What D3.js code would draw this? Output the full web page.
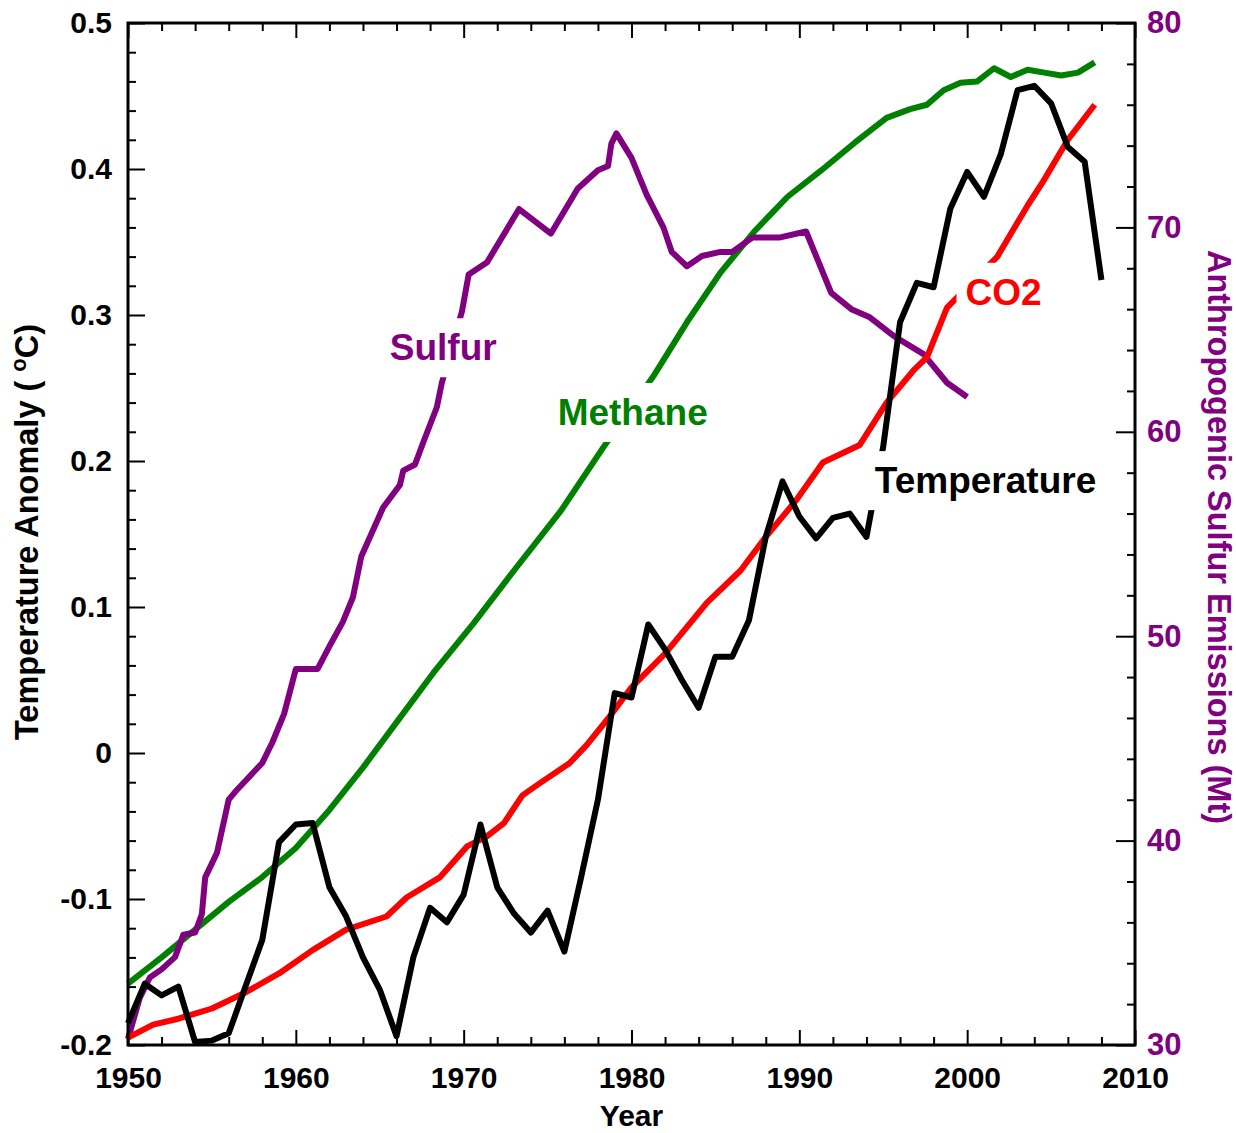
<!DOCTYPE html>
<html>
<head>
<meta charset="utf-8">
<script src="https://cdn.jsdelivr.net/npm/d3@7"></script>
<style>
  body { margin: 0; background: #fff; }
  svg text { font-family: "Liberation Sans", Arial, Helvetica, sans-serif; font-weight: bold; }
</style>
</head>
<body>
<div id="chart"></div>
<script>
// temperature anomaly, annual (left axis, deg C)
var tempYears = d3.range(1950, 2009);
var tempValues = [
  -0.185, -0.158, -0.166, -0.160, -0.198, -0.197, -0.192, -0.160, -0.128, -0.061,
  -0.049, -0.048, -0.092, -0.112, -0.140, -0.162, -0.194, -0.140, -0.106, -0.116,
  -0.097, -0.049, -0.092, -0.110, -0.123, -0.108, -0.136, -0.085, -0.032, 0.041,
  0.038, 0.088, 0.071, 0.050, 0.031, 0.066, 0.066, 0.091, 0.148, 0.186,
  0.162, 0.147, 0.161, 0.164, 0.148, 0.210, 0.295, 0.322, 0.319, 0.373,
  0.398, 0.381, 0.410, 0.454, 0.457, 0.445, 0.415, 0.405, 0.324
];

// CO2, scaled onto the left axis
var co2Years = [1950, 1951.5, 1953, 1955, 1957, 1959, 1961, 1963, 1965.4, 1966.6,
  1968.6, 1970.2, 1971.4, 1972.4, 1973.5, 1974.5, 1976.3, 1977.3, 1978.7, 1980,
  1982, 1984.5, 1986.5, 1988, 1989.8, 1991.4, 1993.6, 1995.2, 1996.8, 1997.6,
  1998.8, 2001.8, 2003.6, 2004.5, 2006, 2007.6];
var co2Values = [-0.195, -0.186, -0.182, -0.175, -0.164, -0.151, -0.135, -0.121, -0.112, -0.099,
  -0.085, -0.064, -0.057, -0.048, -0.029, -0.021, -0.007, 0.005, 0.025, 0.045,
  0.068, 0.103, 0.125, 0.148, 0.173, 0.199, 0.211, 0.240, 0.262, 0.271,
  0.305, 0.340, 0.375, 0.391, 0.420, 0.444];

// methane, scaled onto the left axis
var methaneYears = [1950, 1952, 1954, 1956, 1958, 1960, 1962, 1964, 1966, 1968.2,
  1970.6, 1973, 1975.8, 1978.3, 1981.3, 1983.3, 1985.3, 1987.3, 1989.3, 1991.3,
  1993.3, 1995.2, 1996.6, 1997.6, 1998.6, 1999.6, 2000.6, 2001.6, 2002.6, 2003.6,
  2004.6, 2005.6, 2006.6, 2007.6];
var methaneValues = [-0.158, -0.140, -0.121, -0.102, -0.085, -0.065, -0.039, -0.010, 0.021, 0.055,
  0.089, 0.125, 0.166, 0.209, 0.258, 0.295, 0.329, 0.357, 0.381, 0.399,
  0.418, 0.435, 0.441, 0.444, 0.454, 0.459, 0.460, 0.469, 0.463, 0.468,
  0.466, 0.464, 0.466, 0.473];

// anthropogenic sulfur emissions (right axis, Mt)
var sulfurYears = [1950, 1950.7, 1951.3, 1952, 1952.8, 1953.3, 1954, 1954.4, 1954.6, 1955.3,
  1956, 1956.4, 1957.2, 1958, 1958.6, 1959.3, 1960, 1961.3, 1962, 1962.8,
  1963.4, 1963.9, 1965.2, 1966.2, 1966.4, 1967.1, 1967.6, 1968.4, 1968.7, 1969.9,
  1970.3, 1971.4, 1973.3, 1975.2, 1976.8, 1978, 1978.6, 1978.8, 1979.1, 1980,
  1980.9, 1981.9, 1982.4, 1983.3, 1984.2, 1985.3, 1986, 1987.2, 1988.8, 1990.4,
  1991.9, 1993.1, 1994.2, 1995.6, 1997.4, 1998.8, 2000];
var sulfurValues = [30.3, 32.3, 33.3, 33.7, 34.3, 35.4, 35.5, 36.4, 38.2, 39.4,
  42.0, 42.4, 43.1, 43.8, 44.8, 46.2, 48.4, 48.4, 49.5, 50.7,
  51.9, 53.9, 56.3, 57.4, 58.1, 58.4, 59.5, 61.2, 62.4, 65.9,
  67.7, 68.3, 70.9, 69.7, 71.9, 72.8, 73.0, 74.1, 74.6, 73.4,
  71.6, 70.0, 68.8, 68.1, 68.6, 68.8, 68.8, 69.5, 69.5, 69.8,
  66.8, 66.0, 65.6, 64.7, 63.8, 62.4, 61.7];

// tick labels
var yearTicks = [1950, 1960, 1970, 1980, 1990, 2000, 2010];
var leftTicks = [-0.2, -0.1, 0, 0.1, 0.2, 0.3, 0.4, 0.5];
var rightTicks = [30, 40, 50, 60, 70, 80];

var width = 1236;
var height = 1133;
var margin = { top: 23, right: 101, bottom: 88, left: 128 };
var plotW = width - margin.left - margin.right;
var plotH = height - margin.top - margin.bottom;

var purple = '#800080';
var green = '#008000';
var red = '#ff0000';

var x = d3.scaleLinear().domain([1950, 2010]).range([0, plotW]);
var yL = d3.scaleLinear().domain([-0.2, 0.5]).range([plotH, 0]);
var yR = d3.scaleLinear().domain([30, 80]).range([plotH, 0]);

var svg = d3.select('#chart').append('svg')
  .attr('width', width)
  .attr('height', height);
var plot = svg.append('g')
  .attr('transform', 'translate(' + margin.left + ',' + margin.top + ')');

var minorYears = d3.range(1952, 2010, 2).filter(function (d) { return d % 10 !== 0; });
var minorLeft = d3.range(0, 36).filter(function (i) { return i % 5 !== 0; })
  .map(function (i) { return -0.2 + i * 0.02; });
var minorRight = d3.range(32, 80, 2).filter(function (d) { return d % 10 !== 0; });

function fixAxis(g, size, color) {
  g.select('.domain').remove();
  g.attr('font-family', null).attr('font-size', size);
  g.selectAll('line').attr('stroke', '#000').attr('stroke-width', 2);
  g.selectAll('text').attr('fill', color);
}

// bottom + top
plot.append('g')
  .attr('transform', 'translate(0,' + plotH + ')')
  .call(d3.axisBottom(x).tickValues(yearTicks).tickSize(-15).tickPadding(22).tickFormat(d3.format('d')))
  .call(fixAxis, 30, '#000');
plot.append('g')
  .attr('transform', 'translate(0,' + plotH + ')')
  .call(d3.axisBottom(x).tickValues(minorYears).tickSize(-8).tickFormat(''))
  .call(fixAxis, 30, '#000');
plot.append('g')
  .call(d3.axisTop(x).tickValues(yearTicks).tickSize(-15).tickFormat(''))
  .call(fixAxis, 30, '#000');
plot.append('g')
  .call(d3.axisTop(x).tickValues(minorYears).tickSize(-8).tickFormat(''))
  .call(fixAxis, 30, '#000');

// left
plot.append('g')
  .call(d3.axisLeft(yL).tickValues(leftTicks).tickSize(-17).tickPadding(16).tickFormat(function (d) { return String(d); }))
  .call(fixAxis, 30, '#000');
plot.append('g')
  .call(d3.axisLeft(yL).tickValues(minorLeft).tickSize(-8).tickFormat(''))
  .call(fixAxis, 30, '#000');

// right
plot.append('g')
  .attr('transform', 'translate(' + plotW + ',0)')
  .call(d3.axisRight(yR).tickValues(rightTicks).tickSize(-19).tickPadding(12))
  .call(fixAxis, 31, purple);
plot.append('g')
  .attr('transform', 'translate(' + plotW + ',0)')
  .call(d3.axisRight(yR).tickValues(minorRight).tickSize(-8).tickFormat(''))
  .call(fixAxis, 31, purple);

// series
function drawSeries(years, values, yScale, color) {
  var line = d3.line()
    .x(function (d, i) { return x(years[i]); })
    .y(function (d) { return yScale(d); });
  plot.append('path')
    .datum(values)
    .attr('d', line)
    .attr('fill', 'none')
    .attr('stroke', color)
    .attr('stroke-width', 6)
    .attr('stroke-linejoin', 'round');
}
drawSeries(methaneYears, methaneValues, yL, green);
drawSeries(sulfurYears, sulfurValues, yR, purple);
drawSeries(co2Years, co2Values, yL, red);
drawSeries(tempYears, tempValues, yL, '#000');

// in-plot labels, each on a white box that cuts its line
var labels = [
  { text: 'Sulfur', year: 1965.6, value: 0.269, color: purple, weight: 'bold' },
  { text: 'Methane', year: 1975.6, value: 0.2247, color: green, weight: 'bold' },
  { text: 'CO2', year: 1999.9, value: 0.307, color: red, weight: 'normal' },
  { text: 'Temperature', year: 1994.5, value: 0.178, color: '#000', weight: 'bold' }
];
labels.forEach(function (d) {
  var g = plot.append('g');
  var bg = g.append('rect').attr('fill', '#fff');
  var t = g.append('text')
    .attr('x', x(d.year))
    .attr('y', yL(d.value))
    .attr('font-size', 37)
    .attr('font-weight', d.weight)
    .attr('fill', d.color)
    .text(d.text);
  var bb = t.node().getBBox();
  bg.attr('x', bb.x - 9)
    .attr('y', bb.y - 9)
    .attr('width', bb.width + 18)
    .attr('height', bb.height + 18);
});

// frame
plot.append('rect')
  .attr('width', plotW)
  .attr('height', plotH)
  .attr('fill', 'none')
  .attr('stroke', '#000')
  .attr('stroke-width', 3);

// axis titles
svg.append('text')
  .attr('x', margin.left + plotW / 2)
  .attr('y', 1126)
  .attr('text-anchor', 'middle')
  .attr('font-size', 30)
  .text('Year');

var leftTitle = svg.append('text')
  .attr('transform', 'translate(38,532) rotate(-90)')
  .attr('text-anchor', 'middle')
  .attr('font-size', 32.5);
leftTitle.append('tspan').text('Temperature Anomaly ( ');
leftTitle.append('tspan').attr('font-size', 22).attr('dy', -12).text('o');
leftTitle.append('tspan').attr('dy', 12).text('C)');

svg.append('text')
  .attr('transform', 'translate(1208,537) rotate(90)')
  .attr('text-anchor', 'middle')
  .attr('font-size', 32.5)
  .attr('fill', purple)
  .text('Anthropogenic Sulfur Emissions (Mt)');
</script>
</body>
</html>
